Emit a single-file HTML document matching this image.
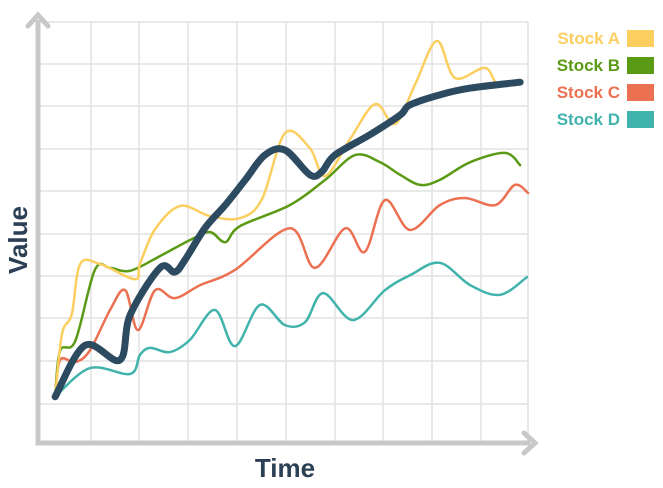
<!DOCTYPE html>
<html><head><meta charset="utf-8"><style>
body{margin:0;background:#fff;}
svg{display:block;font-family:"Liberation Sans",Arial,sans-serif;}
</style></head><body>
<svg id="chart" width="663" height="488" viewBox="0 0 663 488">
<g id="grid"></g>
<g id="axes">
<path d="M38,20 V443 H530" fill="none" stroke="#c8c8c8" stroke-width="5"/>
<path d="M28,26 L38,15 L48,26" fill="none" stroke="#c8c8c8" stroke-width="5" stroke-linecap="round"/>
<path d="M524,433 L535,443 L524,453" fill="none" stroke="#c8c8c8" stroke-width="5" stroke-linecap="round"/>
</g>
<g id="series"></g>
<text x="285" y="477" text-anchor="middle" font-size="26" font-weight="bold" fill="#2c4055">Time</text>
<text transform="translate(27,240) rotate(-90)" text-anchor="middle" font-size="26" font-weight="bold" fill="#2c4055">Value</text>
<g id="legend"></g>
</svg>
<script>
const seriesNames=["Stock A","Stock B","Stock C","Stock D"];
const seriesColors=["#fbcf5f","#5b9a15","#ec7052","#41b3ad"];
const stockATime=[3.5,4.9,6.9,8.6,12.7,19.8,20.8,23.9,29,35.1,41.2,45.7,50.4,55.5,58.6,63.7,68.8,72.9,77,81.4,85.1,91.2,93.9,97.9];
const stockAVal=[11,25.9,30.6,42.5,42.5,38.9,42.5,50.8,56.3,53.9,53.4,57.9,73.6,70,63.4,72.2,80.5,75.8,85.3,95.5,86.7,89.1,85,85.5];
const stockBTime=[3.5,4.5,7.6,11.6,14.7,18.8,24.9,31,35.1,38.2,41.2,51.4,58.6,64.7,69.8,73.9,78,82,88.2,95.3,98.4];
const stockBVal=[11,21.9,24.2,41.1,41.6,40.9,44.4,48.2,50.1,47.7,51.5,56.5,62.5,68.4,66.7,63.7,61.3,62.5,66.7,68.9,66];
const stockCTime=[3.5,4.5,7.6,10.6,14.7,17.8,20.4,23.9,27.9,33.1,40.2,51.4,56.5,62.7,66.7,70.8,75.9,82,87.1,93.3,97.3,100];
const stockCVal=[11,19.7,19.2,22,31.6,36.3,26.8,36.3,34.4,37.5,41.1,51,41.6,51,45.4,57.7,50.6,56.5,58.2,56.5,61.3,59.4];
const stockDTime=[3.5,10.6,18.8,20.8,22.9,26.9,31,36.1,40.2,45.3,50.4,54.5,58.2,64.3,70.8,76,82,88.2,94.3,99.8];
const stockDVal=[11,17.8,16.4,20.9,22.6,21.6,24.5,31.6,23.0,32.8,28,28.7,35.6,29.2,36.3,39.9,42.8,37.5,35.2,39.4];
const mainTime=[3.5,9.6,16.7,18.8,24.9,27.9,30,34.1,38.2,42.3,46.3,50.4,55.5,57.9,60.6,67.7,73.9,75.9,82,88.2,98.4];
const mainVal=[11,23.2,19.7,30.4,41.6,40.6,43.5,51.1,56.5,62.5,68.4,69.6,63.7,64.4,68.4,73.2,77.9,80.3,82.7,84.3,85.7];
const NS="http://www.w3.org/2000/svg";
function xs(t){return 38+t*4.9;}
function ys(v){return 443-v*4.21;}
function smooth(p){let d="M"+p[0][0]+","+p[0][1];for(let i=0;i<p.length-1;i++){const p0=p[i-1]||p[i],p1=p[i],p2=p[i+1],p3=p[i+2]||p2;d+=" C"+(p1[0]+(p2[0]-p0[0])/6)+","+(p1[1]+(p2[1]-p0[1])/6)+" "+(p2[0]-(p3[0]-p1[0])/6)+","+(p2[1]-(p3[1]-p1[1])/6)+" "+p2[0]+","+p2[1];}return d;}
const grid=document.getElementById("grid");
const gx=[91,139,188,237,286,335,383,432,481,528];
gx.forEach(function(x){const l=document.createElementNS(NS,"line");l.setAttribute("x1",x);l.setAttribute("x2",x);l.setAttribute("y1",22);l.setAttribute("y2",441);l.setAttribute("stroke","#e2e2e2");l.setAttribute("stroke-width","1.5");


grid.appendChild(l);});
[22,64,106,149,191,234,276,318,361,404].forEach(function(y){const l=document.createElementNS(NS,"line");l.setAttribute("x1",40);l.setAttribute("x2",528);l.setAttribute("y1",y);l.setAttribute("y2",y);l.setAttribute("stroke","#e2e2e2");l.setAttribute("stroke-width","1.5");


grid.appendChild(l);});
const sg=document.getElementById("series");
function draw(T,V,color,w,name){const pts=T.map(function(t,i){return [xs(t),ys(V[i])];});const p=document.createElementNS(NS,"path");p.setAttribute("d",smooth(pts));p.setAttribute("fill","none");p.setAttribute("stroke",color);p.setAttribute("stroke-width",w);p.setAttribute("stroke-linecap","round");p.setAttribute("stroke-linejoin","round");


sg.appendChild(p);}
draw(stockDTime,stockDVal,seriesColors[3],2.5,"line-stock-d");
draw(stockCTime,stockCVal,seriesColors[2],2.5,"line-stock-c");
draw(stockBTime,stockBVal,seriesColors[1],2.5,"line-stock-b");
draw(stockATime,stockAVal,seriesColors[0],2.5,"line-stock-a");
draw(mainTime,mainVal,"#2c4a60",7,"line-main-trend");
const lg=document.getElementById("legend");
seriesNames.forEach(function(n,i){const y=30+i*27;const t=document.createElementNS(NS,"text");t.setAttribute("x",620);t.setAttribute("y",y+14);t.setAttribute("text-anchor","end");t.setAttribute("font-size","17");t.setAttribute("font-weight","bold");t.setAttribute("fill",seriesColors[i]);t.textContent=n;


lg.appendChild(t);const r=document.createElementNS(NS,"rect");r.setAttribute("x",627);r.setAttribute("y",y);r.setAttribute("width",27);r.setAttribute("height",17);r.setAttribute("fill",seriesColors[i]);


lg.appendChild(r);});
</script>
</body></html>
